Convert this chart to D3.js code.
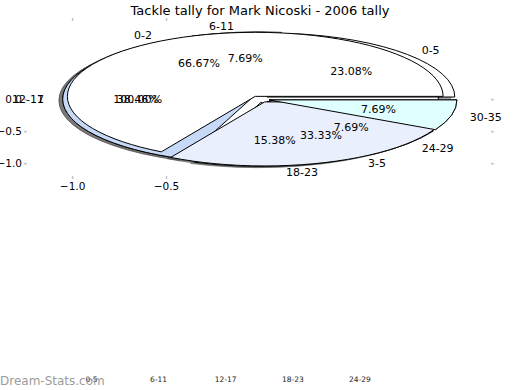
<!DOCTYPE html>
<html>
<head>
<meta charset="utf-8">
<script src="https://cdn.jsdelivr.net/npm/d3@7"></script>
<style>
  body { margin: 0; background: #fff; }
  text { font-family: "DejaVu Sans", sans-serif; }
</style>
</head>
<body>
<div id="chart"></div>
<script>
// three pies drawn on one (stretched) axes, like the original image
const pieLabels1 = ["0-2", "3-5"];
const pieValues1 = [2, 1];
const pieColors1 = ["#ffffff", "#e9effc"];

const pieLabels2 = ["0-5", "6-11", "12-17", "18-23", "24-29", "30-35"];
const pieValues2 = [3, 1, 5, 2, 1, 1];
const pieColors2 = ["#ffffff", "#ffffff", "#c6daf7", "#e9effc", "#e9effc", "#e0ffff"];

const pieLabels3 = ["1"];
const pieValues3 = [1];
const pieColors3 = ["#ffffff"];

const xTicks = [-1.0, -0.5];
const yTicks = [0.0, -0.5, -1.0];
const bottomCats = ["0-5", "6-11", "12-17", "18-23", "24-29"];

const title = "Tackle tally for Mark Nicoski - 2006 tally";
const width = 520, height = 390;
const explode = 0.05;
const R = 1000;

const svg = d3.select("#chart").append("svg")
  .attr("width", width)
  .attr("height", height);

const x = d3.scaleLinear().domain([-1.24, 1.23]).range([27, 491]);
const y = d3.scaleLinear().domain([-1.2, 1.22]).range([176, 21]);
const kx = (x(1) - x(0)) / R;
const ky = (y(0) - y(1)) / R;

function layout(values, labels, colors) {
  const total = d3.sum(values);
  const rows = values.map((v, i) => ({ v: v, label: labels[i], color: colors[i] }));
  return d3.pie().sort(null).value(d => d.v)(rows).map(p => {
    const mid = (p.startAngle + p.endAngle) / 2;
    return {
      t1: p.startAngle, t2: p.endAngle, mid: mid,
      cx: explode * Math.cos(mid), cy: explode * Math.sin(mid),
      label: p.data.label, color: p.data.color,
      pct: p.value / total * 100
    };
  });
}

const pie1 = layout(pieValues1, pieLabels1, pieColors1);
const pie2 = layout(pieValues2, pieLabels2, pieColors2);
const pie3 = layout(pieValues3, pieLabels3, pieColors3);

// angles are counter-clockwise from 3 o'clock; d3.arc wants clockwise from 12
const arc = d3.arc()
  .innerRadius(0)
  .outerRadius(R)
  .startAngle(d => Math.PI / 2 - d.t2)
  .endAngle(d => Math.PI / 2 - d.t1);

const all = pie3.concat(pie2, pie1);

// shadows go under every wedge
svg.append("g").selectAll("path")
  .data(all)
  .enter()
  .append("path")
  .attr("d", arc)
  .attr("transform", d => "translate(" + x(d.cx - 0.02) + "," + y(d.cy - 0.02) + ") scale(" + kx + "," + ky + ")")
  .attr("fill", "rgba(77,77,77,0.5)")
  .attr("stroke", "rgba(77,77,77,0.5)")
  .attr("stroke-width", 1)
  .attr("vector-effect", "non-scaling-stroke");

// last wedge of the second pie ends up on top in the picture
const order = all.concat([pie2[pie2.length - 1]]);

svg.append("g").selectAll("path")
  .data(order)
  .enter()
  .append("path")
  .attr("d", arc)
  .attr("transform", d => "translate(" + x(d.cx) + "," + y(d.cy) + ") scale(" + kx + "," + ky + ")")
  .attr("fill", d => d.color)
  .attr("stroke", "#000")
  .attr("stroke-width", 1)
  .attr("vector-effect", "non-scaling-stroke");

// labels at 1.1 r, percentages at 0.6 r
const labelG = svg.append("g").style("font-size", "11px");
labelG.selectAll("text.lab")
  .data(all)
  .enter()
  .append("text")
  .attr("class", "lab")
  .attr("x", d => x(d.cx + 1.1 * Math.cos(d.mid)))
  .attr("y", d => y(d.cy + 1.1 * Math.sin(d.mid)))
  .attr("dy", "0.35em")
  .attr("text-anchor", d => (1.1 * Math.cos(d.mid) + d.cx) > 0 ? "start" : "end")
  .text(d => d.label);

labelG.selectAll("text.pct")
  .data(all)
  .enter()
  .append("text")
  .attr("class", "pct")
  .attr("x", d => x(d.cx + 0.6 * Math.cos(d.mid)))
  .attr("y", d => y(d.cy + 0.6 * Math.sin(d.mid)))
  .attr("dy", "0.35em")
  .attr("text-anchor", "middle")
  .text(d => d3.format(".2f")(d.pct) + "%");

// axes: only a few ticks, no spines
function styleAxis(g) {
  g.select(".domain").remove();
  g.selectAll(".tick line").attr("stroke", "#c4c4c4").attr("stroke-width", 1.5);
  g.selectAll(".tick text").attr("fill", "#000").style("font-size", "10.5px")
    .style("font-family", "DejaVu Sans, sans-serif");
}
const fmt = d3.format(".1f");

svg.append("g")
  .attr("transform", "translate(0,176)")
  .call(d3.axisBottom(x).tickValues(xTicks).tickSize(3).tickPadding(4).tickFormat(fmt))
  .call(styleAxis);
svg.append("g")
  .attr("transform", "translate(0,21)")
  .call(d3.axisTop(x).tickValues(xTicks).tickSize(3).tickFormat(""))
  .call(styleAxis);
svg.append("g")
  .attr("transform", "translate(27,0)")
  .call(d3.axisLeft(y).tickValues(yTicks).tickSize(3).tickPadding(2).tickFormat(fmt))
  .call(styleAxis);
svg.append("g")
  .attr("transform", "translate(491,0)")
  .call(d3.axisRight(y).tickValues(yTicks).tickSize(3).tickFormat(""))
  .call(styleAxis);

svg.append("text")
  .attr("x", 260)
  .attr("y", 15)
  .attr("text-anchor", "middle")
  .style("font-size", "13px")
  .text(title);

// squeezed category labels at the very bottom
const xb = d3.scalePoint().domain(bottomCats).range([91.5, 360]);
svg.append("g").selectAll("text")
  .data(bottomCats)
  .enter()
  .append("text")
  .attr("x", d => xb(d))
  .attr("y", 382)
  .attr("text-anchor", "middle")
  .style("font-size", "7.5px")
  .attr("fill", "#222")
  .text(d => d);

svg.append("text")
  .attr("x", 0)
  .attr("y", 385)
  .style("font-size", "12px")
  .attr("fill", "#9c9c9c")
  .text("Dream-Stats.com");
</script>
</body>
</html>
